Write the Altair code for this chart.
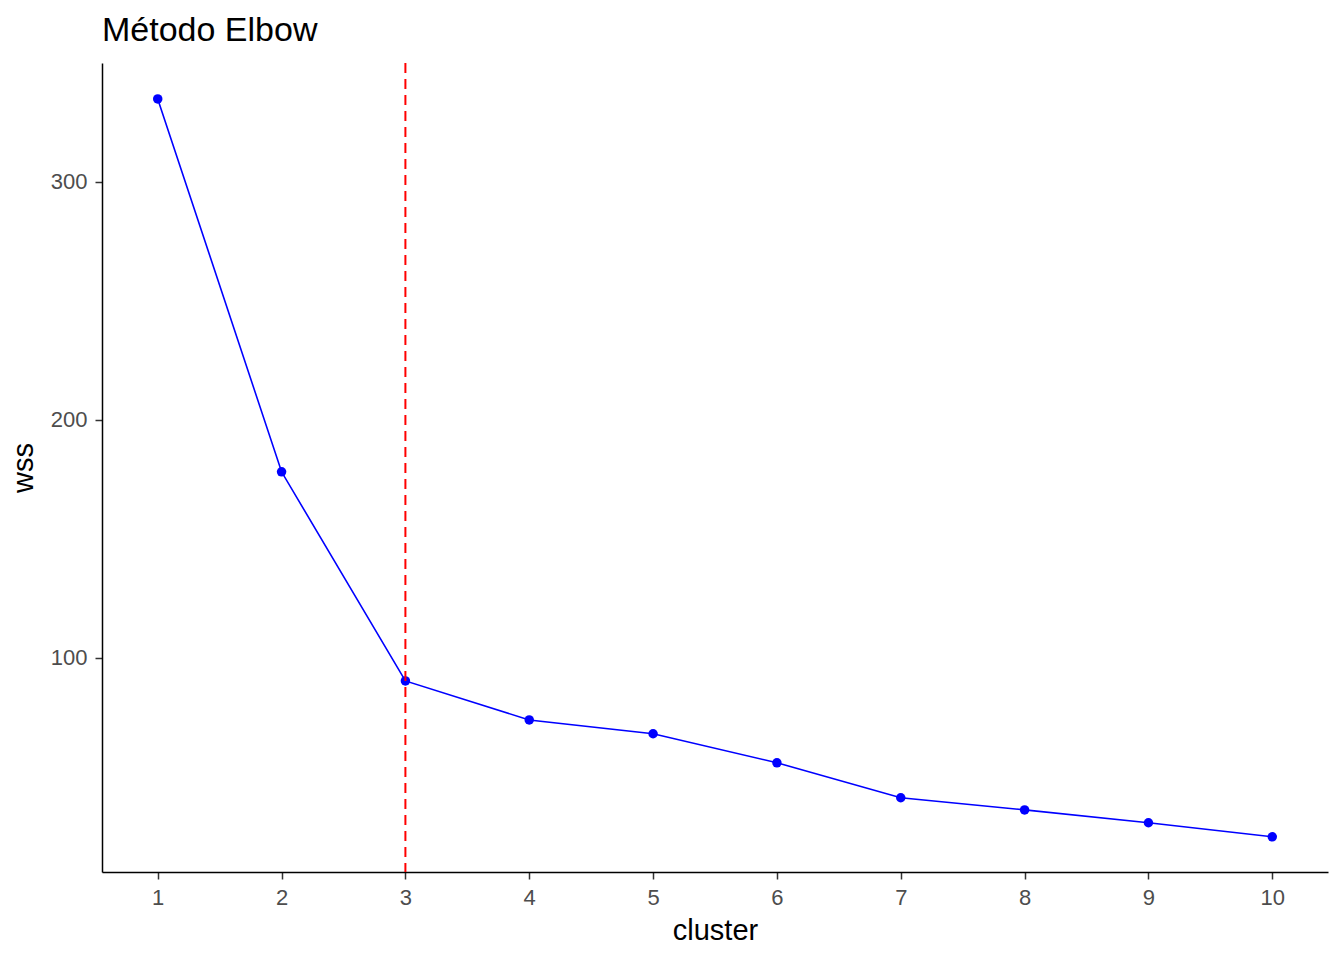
import altair as alt
import pandas as pd

clusters = [1, 2, 3, 4, 5, 6, 7, 8, 9, 10]
wss = [334.9, 178.2, 90.3, 73.9, 68.1, 55.9, 41.2, 36.1, 30.7, 24.8]
elbow_k = [3]

df = pd.DataFrame({"cluster": clusters, "wss": wss})
vdf = pd.DataFrame({"k": elbow_k})

FONT = "Liberation Sans"

x_scale = alt.Scale(domain=[0.55, 10.45], nice=False, zero=False)
y_scale = alt.Scale(domain=[10, 350], nice=False, zero=False)

x_axis = alt.Axis(values=clusters, format="d", title="cluster", grid=False, domainColor="black",
                  domainWidth=1.5, tickColor="#333333", tickWidth=1.5, tickSize=7,
                  labelColor="#4D4D4D", labelFontSize=22, labelFont=FONT, labelPadding=8,
                  titleFont=FONT, titleFontSize=29, titleFontWeight="normal",
                  titleColor="black", titlePadding=8)
y_axis = alt.Axis(values=[100, 200, 300], format="d", title="wss", grid=False, domainColor="black",
                  domainWidth=1.5, tickColor="#333333", tickWidth=1.5, tickSize=7,
                  labelColor="#4D4D4D", labelFontSize=22, labelFont=FONT, labelPadding=8,
                  titleFont=FONT, titleFontSize=29, titleFontWeight="normal",
                  titleColor="black", titlePadding=12)

base = alt.Chart(df)
line = base.mark_line(color="blue", strokeWidth=1.6).encode(
    x=alt.X("cluster:Q", scale=x_scale, axis=x_axis),
    y=alt.Y("wss:Q", scale=y_scale, axis=y_axis),
)
points = base.mark_circle(color="blue", size=90, opacity=1).encode(
    x=alt.X("cluster:Q", scale=x_scale),
    y=alt.Y("wss:Q", scale=y_scale),
)
rule = alt.Chart(vdf).mark_rule(color="red", strokeWidth=2, strokeDash=[10, 6]).encode(
    x=alt.X("k:Q", scale=x_scale),
)

chart = (line + points + rule).properties(
    width=1226,
    height=809,
    title=alt.TitleParams("Método Elbow", anchor="start", frame="group", font=FONT, fontSize=34,
                          fontWeight="normal", color="black", offset=14),
    autosize=alt.AutoSizeParams(type="none"),
    padding={"left": 94, "top": 55, "right": 8, "bottom": 80},
).configure(background="white").configure_view(stroke=None, strokeWidth=0)

chart.save("out.html", embed_options={"renderer": "svg", "actions": False})
